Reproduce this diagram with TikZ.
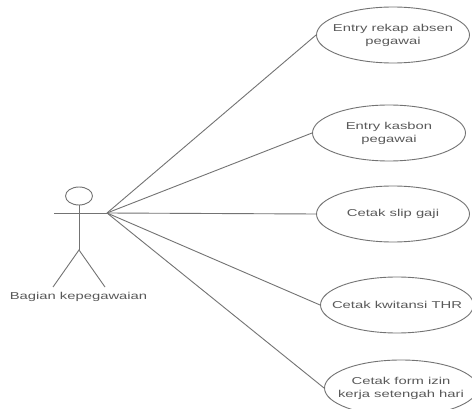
\documentclass[tikz,border=0pt]{standalone}
\usepackage{fontspec}
\setmainfont[FakeStretch=1.48]{Liberation Sans}
\usetikzlibrary{shapes.geometric}
\definecolor{ln}{gray}{0.45}
\definecolor{tx}{gray}{0.35}
\tikzset{
 x=1pt,y=-1pt,
 lin/.style={draw=ln,line width=0.9pt},
 usecase/.style={ellipse,lin,inner sep=0pt,minimum height=56pt,minimum width=153pt},
 uctext/.style={inner sep=0pt,align=center,font=\fontsize{10}{13}\selectfont,text=tx},
 lbl/.style={font=\fontsize{10}{12}\selectfont,text=tx,inner sep=0pt}
}
\begin{document}
\begin{tikzpicture}
\useasboundingbox (0,0) rectangle (472,409);
\fill[white] (0,0) rectangle (472,409);
\node[usecase] (u1) at (393,35) {};
\node[uctext] (t1) at (u1.center) {Entry rekap absen\\pegawai};
\node[usecase] (u2) at (389,133) {};
\node[uctext] (t2) at (u2.center) {Entry kasbon\\pegawai};
\node[usecase] (u3) at (393,214) {};
\node[uctext] (t3) at (u3.center) {Cetak slip gaji};
\node[usecase] (u4) at (397,305) {};
\node[uctext] (t4) at (u4.center) {Cetak kwitansi THR};
\node[usecase] (u5) at (401,388) {};
\node[uctext] (t5) at (u5.center) {Cetak form izin\\kerja setengah hari};
\node[ellipse,lin,inner sep=0pt,minimum width=27pt,minimum height=18pt] (head) at (79,196) {};
\coordinate (armL) at (54,213);
\coordinate (hub) at (107,213);
\coordinate (hip) at (79,250);
\coordinate (footL) at (53,287);
\coordinate (footR) at (105,287);
\draw[lin] (armL) -- (hub);
\draw[lin] (head.south) -- (hip);
\draw[lin] (footL) -- (hip) -- (footR);
\node[lbl] (actor) at (78.5,297) {Bagian kepegawaian};
\foreach \u in {u1,u2,u3,u4,u5} \draw[lin] (hub) -- (\u.west);
\end{tikzpicture}
\end{document}
